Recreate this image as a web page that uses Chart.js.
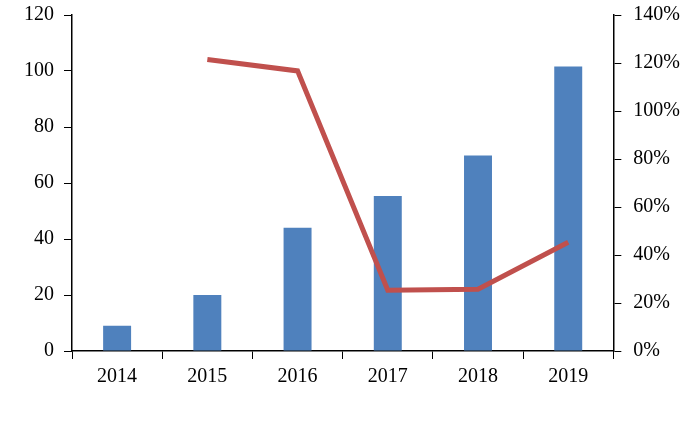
<!DOCTYPE html>
<html><head><script src="https://cdn.jsdelivr.net/npm/chart.js@4"></script>
<style>body{margin:0;background:#fff;overflow:hidden}#w{position:absolute;top:-9px;left:0;width:700px;height:434px}</style></head>
<body><div id="w"><canvas id="c"></canvas></div>
<script>
const categories=["2014","2015","2016","2017","2018","2019"];
const barValues=[9,20,44,55.4,69.8,101.6];
const growthPct=[null,121.5,116.7,25.3,25.7,45.3];
const leftTicks=[0,20,40,60,80,100,120];
const rightTicks=[0,20,40,60,80,100,120,140];
const font={family:"Liberation Serif",size:20};
new Chart(document.getElementById('c'),{
 data:{labels:categories,datasets:[
  {type:'line',data:growthPct,yAxisID:'y1',borderColor:'#C0504D',borderWidth:5,pointRadius:0,tension:0,order:0},
  {type:'bar',data:barValues,yAxisID:'y',backgroundColor:'#4F81BD',barPercentage:0.31,categoryPercentage:1,order:1}
 ]},
 options:{responsive:true,maintainAspectRatio:false,animation:false,
  layout:{padding:{top:0,bottom:30,right:8,left:14}},
  plugins:{legend:{display:false},tooltip:{enabled:false}},
  scales:{
   x:{offset:true,grid:{display:true,drawOnChartArea:false,offset:true,color:'#000',tickLength:8},border:{color:'#000',width:1.5},ticks:{font,color:'#000',padding:6}},
   y:{position:'left',min:0,max:120,afterBuildTicks:a=>{a.ticks=leftTicks.map(v=>({value:v}))},grid:{drawOnChartArea:false,color:'#000',tickLength:8},border:{color:'#000',width:1.5},ticks:{font,color:'#000',padding:10}},
   y1:{position:'right',min:0,max:140,afterBuildTicks:a=>{a.ticks=rightTicks.map(v=>({value:v}))},grid:{drawOnChartArea:false,color:'#000',tickLength:8},border:{color:'#000',width:1.5},ticks:{font,color:'#000',padding:12,callback:v=>v+'%'}}
  }}
});
</script></body></html>
